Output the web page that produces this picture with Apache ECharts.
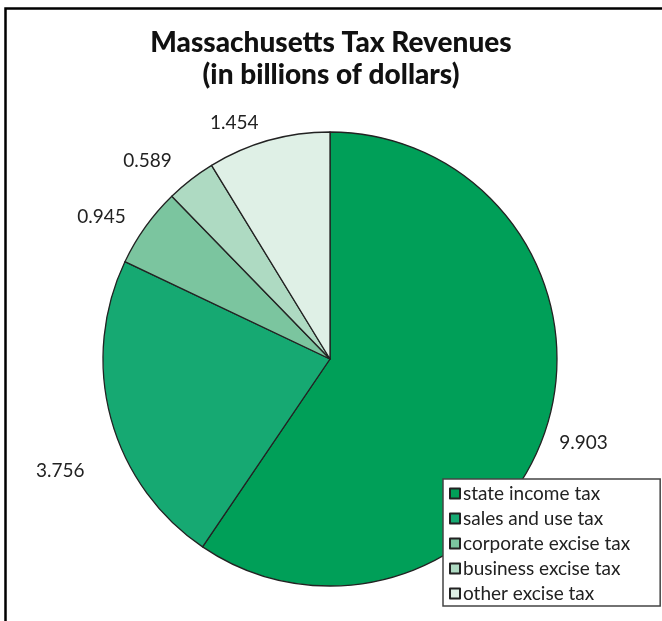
<!DOCTYPE html>
<html>
<head>
<meta charset="utf-8">
<script src="https://cdn.jsdelivr.net/npm/echarts@6/dist/echarts.min.js"></script>
<style>
  html, body { margin: 0; padding: 0; background: #fff; }
  #chart { width: 662px; height: 621px; }
</style>
</head>
<body>
<div id="chart"></div>
<script>
// revenue categories and values (billions of dollars)
const categories = ['state income tax', 'sales and use tax', 'corporate excise tax', 'business excise tax', 'other excise tax'];
const revenues = [9.903, 3.756, 0.945, 0.589, 1.454];
const sliceColors = ['#009F58', '#16A972', '#7BC59F', '#AEDAC2', '#DFF0E6'];

// small nudges so the labels sit where the original put them
const labelOffsets = [[-10, 12], [-4, 48], [0, 0], [-3, -5], [0, 0]];

const chart = echarts.init(document.getElementById('chart'));

const option = {
  animation: false,
  title: {
    text: 'Massachusetts Tax Revenues\n(in billions of dollars)',
    left: 'center',
    top: 22,
    textStyle: {
      fontFamily: 'Lato',
      fontWeight: 900,
      fontSize: 28,
      lineHeight: 32,
      color: '#111'
    }
  },
  legend: {
    orient: 'vertical',
    left: 443,
    top: 479,
    padding: [5, 30, 3, 6],
    itemGap: 6,
    itemWidth: 10,
    itemHeight: 10,
    borderColor: '#444',
    borderWidth: 1.5,
    backgroundColor: '#fff',
    icon: 'rect',
    textStyle: {
      fontFamily: 'Lato',
      fontSize: 19,
      color: '#222',
      padding: [0, 0, 0, -2]
    },
    data: categories
  },
  graphic: [{
    type: 'rect',
    left: 3,
    top: 6,
    shape: { width: 700, height: 700 },
    style: { fill: 'none', stroke: '#000', lineWidth: 2.5 },
    silent: true,
    z: 100
  }],
  series: [{
    type: 'pie',
    center: [330, 359],
    radius: 227,
    startAngle: 90,
    clockwise: true,
    avoidLabelOverlap: false,
    itemStyle: {
      borderColor: '#222',
      borderWidth: 1.3
    },
    label: {
      show: true,
      position: 'outside',
      formatter: p => p.value.toFixed(3),
      fontFamily: 'Lato',
      fontSize: 19,
      color: '#222'
    },
    labelLine: { show: false, length: 18, length2: 0 },
    data: categories.map((name, i) => ({
      name: name,
      value: revenues[i],
      itemStyle: { color: sliceColors[i] },
      label: { offset: labelOffsets[i] }
    }))
  }]
};

chart.setOption(option);
</script>
</body>
</html>
